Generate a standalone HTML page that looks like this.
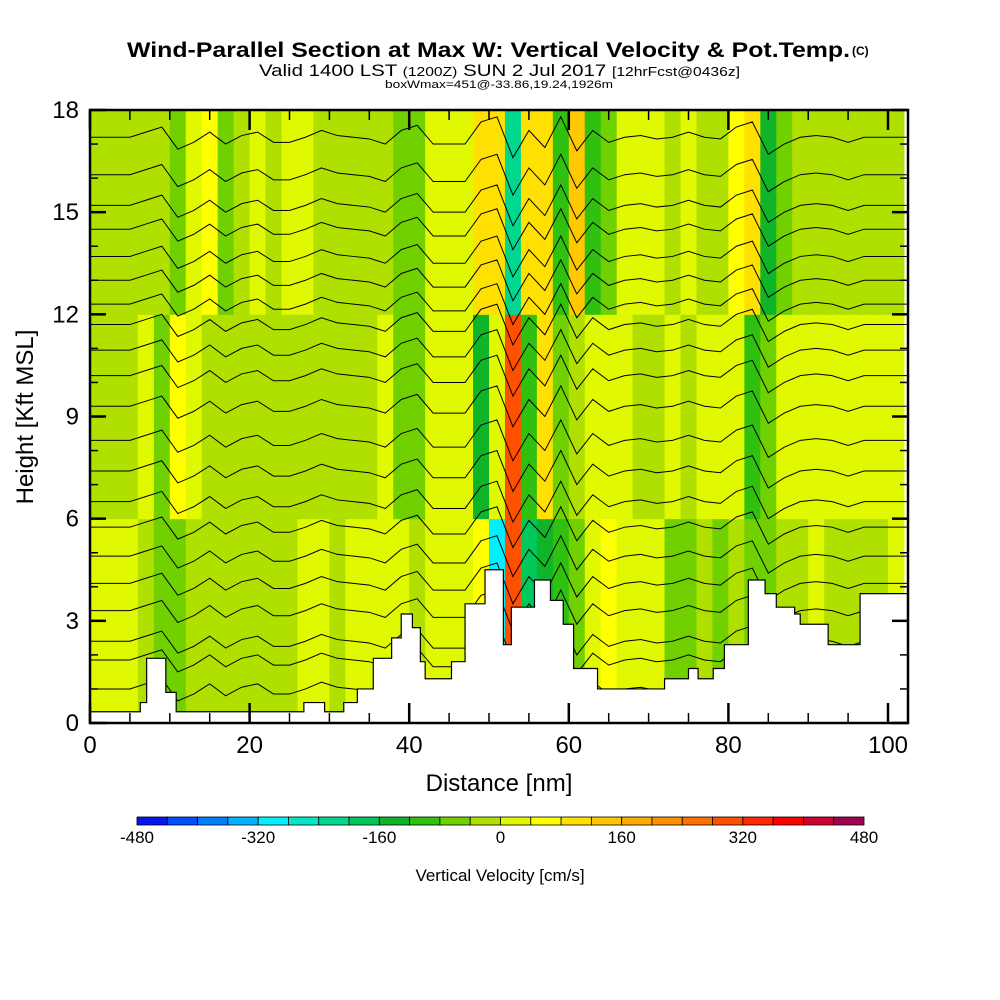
<!DOCTYPE html>
<html><head><meta charset="utf-8"><style>
body{margin:0;background:#fff;width:1000px;height:1000px;overflow:hidden;font-family:"Liberation Sans",sans-serif}
svg{display:block}
</style></head><body>
<svg id="chart" width="1000" height="1000" viewBox="0 0 1000 1000" xmlns="http://www.w3.org/2000/svg" font-family="Liberation Sans, sans-serif">
<text x="127" y="57" font-size="21" font-weight="bold" textLength="723" lengthAdjust="spacingAndGlyphs">Wind-Parallel Section at Max W: Vertical Velocity &amp; Pot.Temp.</text>
<text x="852" y="55" font-size="12" font-weight="bold">(C)</text>
<text x="259" y="76" font-size="17" textLength="481" lengthAdjust="spacingAndGlyphs">Valid 1400 LST <tspan font-size="13">(1200Z)</tspan> SUN 2 Jul 2017 <tspan font-size="13">[12hrFcst@0436z]</tspan></text>
<text x="385" y="88" font-size="11" textLength="228" lengthAdjust="spacingAndGlyphs">boxWmax=451@-33.86,19.24,1926m</text>
<g id="field"></g>
<g id="contours"></g>
<g id="terrain"></g>
<g id="axes"></g>
<text x="499" y="791" text-anchor="middle" font-size="24">Distance [nm]</text>
<text transform="translate(33,417) rotate(-90)" text-anchor="middle" font-size="24">Height [Kft MSL]</text>
<g id="cbar"></g>
<text x="500" y="881" text-anchor="middle" font-size="17">Vertical Velocity [cm/s]</text>
</svg>
<script>
// ---- data ----
const colStartsNm = [0,2,4,6,8,10,12,14,16,18,20,22,24,26,28,30,32,34,36,38,40,42,44,46,48,50,52,54,56,58,60,62,64,66,68,70,72,74,76,78,80,82,84,86,88,90,92,94,96,98,100];
const wHigh = [-20,-20,-20,-20,-20,-60,20,40,-60,-20,0,-20,20,20,-20,-20,-20,-20,-20,-60,-60,0,0,20,100,100,-220,100,100,-120,130,-120,-60,20,20,0,-20,0,-20,-20,40,100,-140,-60,-20,-20,-20,-20,-20,-20,-20];
const wMid = [-20,-20,-20,20,-80,60,20,-20,-20,-20,-20,-20,-20,-20,-20,-20,-20,-20,20,-60,-60,0,0,20,-150,20,300,-120,80,-80,-20,20,0,0,-20,-20,0,-20,20,0,0,-100,-60,0,20,20,0,20,20,0,0];
const wLow = [20,20,20,-20,-80,-60,-20,-20,-20,-20,-20,-20,-20,20,0,-20,20,0,20,20,-20,0,20,20,40,-300,300,-200,-150,-120,-60,20,40,20,20,20,-60,-60,-20,-60,-20,-60,-60,-20,-20,20,-20,-20,-20,-20,20];
const bandBottoms = [0,6,12];
const contourBase = [1.0,1.85,2.4,3.3,4.1,4.9,5.75,6.5,7.4,8.3,9.3,10.2,10.95,11.7,12.3,13.0,13.7,14.5,15.2,16.1,17.2];
const contourDisp = [0,0,0,0.15,0.3,-0.35,-0.15,0.15,-0.2,0.05,0.15,-0.15,-0.15,0,0.2,0.05,0,-0.05,-0.2,0.2,0.35,-0.2,-0.2,-0.2,0.45,0.6,-0.6,0.2,-0.3,0.6,-0.4,0.2,-0.15,0,0.05,-0.05,0,0.15,0,-0.05,0.3,0.45,-0.5,-0.2,0,0.05,0,-0.15,0,0,0];
const terrainX = [0,6.3,7.1,9.5,10.8,26.8,29.4,31.8,33.5,35.5,37.8,39,40.4,41.4,42,45.3,47,49.5,51.1,51.8,52.8,55.7,57.7,59.3,60.6,63.6,72,75,76.2,78.1,79.5,82.5,84.6,86,88.3,89,92.5,96.5,98.1,102.5];
const terrainH = [0.33,0.6,1.9,0.9,0.33,0.6,0.33,0.6,1.0,1.9,2.5,3.2,2.8,1.8,1.3,1.8,3.5,4.5,4.5,2.3,3.4,4.2,3.6,2.9,1.6,1.0,1.3,1.6,1.3,1.6,2.3,4.2,3.8,3.4,3.2,2.9,2.3,3.8,3.8,3.8];
const cbarLevels = [-480,-440,-400,-360,-320,-280,-240,-200,-160,-120,-80,-40,0,40,80,120,160,200,240,280,320,360,400,440];
const cbarColors = ["#0a14f0","#0050ff","#0080ff","#00b4ff","#00f0ff","#00e8c8","#00d890","#00c85a","#10b428","#30c010","#70d000","#b0e000","#e0f800","#ffff00","#ffe000","#ffc800","#ffaa00","#ff9000","#ff7000","#ff5000","#ff2800","#ff0000","#d00030","#a00050"];
const cbarTicks = [-480,-320,-160,0,160,320,480];
const xTicks = [0,20,40,60,80,100];
const yTicks = [0,3,6,9,12,15,18];
// ---- scales ----
const X0=90,X1=908,Y0=723,Y1=110;
const xs = nm => X0 + nm*7.98;
const ys = k => Y0 - k*(Y0-Y1)/18;
const NS="http://www.w3.org/2000/svg";
function mk(tag, parent, attrs){const e=document.createElementNS(NS,tag);for(const k in attrs)e.setAttribute(k,attrs[k]);parent.appendChild(e);return e;}
function colorFor(v){let i=Math.floor((v+480)/40);i=Math.max(0,Math.min(23,i));return cbarColors[i];}
const field=document.getElementById('field');
const bands=[wLow,wMid,wHigh];
bands.forEach((arr,b)=>{
  arr.forEach((v,i)=>{
    const x0=xs(colStartsNm[i]);const x1=Math.min(X1,xs(colStartsNm[i]+2));
    const r=mk('rect',field,{x:x0,y:ys(bandBottoms[b]+6),width:x1-x0+0.5,height:ys(bandBottoms[b])-ys(bandBottoms[b]+6)+0.5,fill:colorFor(v)});
    
    
  });
});
const cg=document.getElementById('contours');
contourBase.forEach((b,j)=>{
  let pts=[[X0,ys(b)]];
  contourDisp.forEach((d,i)=>{pts.push([xs(colStartsNm[i]+1),ys(b+d)]);});
  pts.push([X1,ys(b)]);
  const p=mk('polyline',cg,{points:pts.map(p=>p.join(',')).join(' '),fill:'none',stroke:'#000','stroke-width':1});
  
  
});
const tg=document.getElementById('terrain');
let d='M'+X0+','+Y0;
terrainX.forEach((x,i)=>{const nx=i+1<terrainX.length?terrainX[i+1]:102.5;d+=' L'+xs(x)+','+ys(terrainH[i])+' L'+Math.min(X1,xs(nx))+','+ys(terrainH[i]);});
d+=' L'+X1+','+Y0+' Z';
const tp=mk('path',tg,{d:d,fill:'#fff',stroke:'#000','stroke-width':1.2});


const ax=document.getElementById('axes');
const fr=mk('rect',ax,{x:X0,y:Y1,width:X1-X0,height:Y0-Y1,fill:'none',stroke:'#000','stroke-width':2.5});


for(let k=0;k<=18;k++){const major=k%3===0;const L=major?16:8;
  mk('line',ax,{x1:X0,x2:X0+L,y1:ys(k),y2:ys(k),stroke:'#000','stroke-width':major?2.5:1.5});
  mk('line',ax,{x1:X1-L,x2:X1,y1:ys(k),y2:ys(k),stroke:'#000','stroke-width':major?2.5:1.5});}
for(let n=0;n<=100;n+=5){const major=n%20===0;const L=major?20:10;
  mk('line',ax,{x1:xs(n),x2:xs(n),y1:Y0,y2:Y0-L,stroke:'#000','stroke-width':major?2.5:1.5});
  mk('line',ax,{x1:xs(n),x2:xs(n),y1:Y1,y2:Y1+L,stroke:'#000','stroke-width':major?2.5:1.5});}
yTicks.forEach(v=>{const t=mk('text',ax,{x:79,y:ys(v)+8,'text-anchor':'end','font-size':24});t.textContent=v;
  });
xTicks.forEach(v=>{const t=mk('text',ax,{x:xs(v),y:753,'text-anchor':'middle','font-size':24});t.textContent=v;
  });
const cb=document.getElementById('cbar');
const cx=v=>137+(v+480)*(727/960);
cbarLevels.forEach((lv,i)=>{const r=mk('rect',cb,{x:cx(lv),y:817,width:727/24,height:8,fill:cbarColors[i],stroke:'#000','stroke-width':0.8});
  });
cbarTicks.forEach(v=>{const t=mk('text',cb,{x:cx(v),y:843,'text-anchor':'middle','font-size':17});t.textContent=v;
  });
</script>
</body></html>
